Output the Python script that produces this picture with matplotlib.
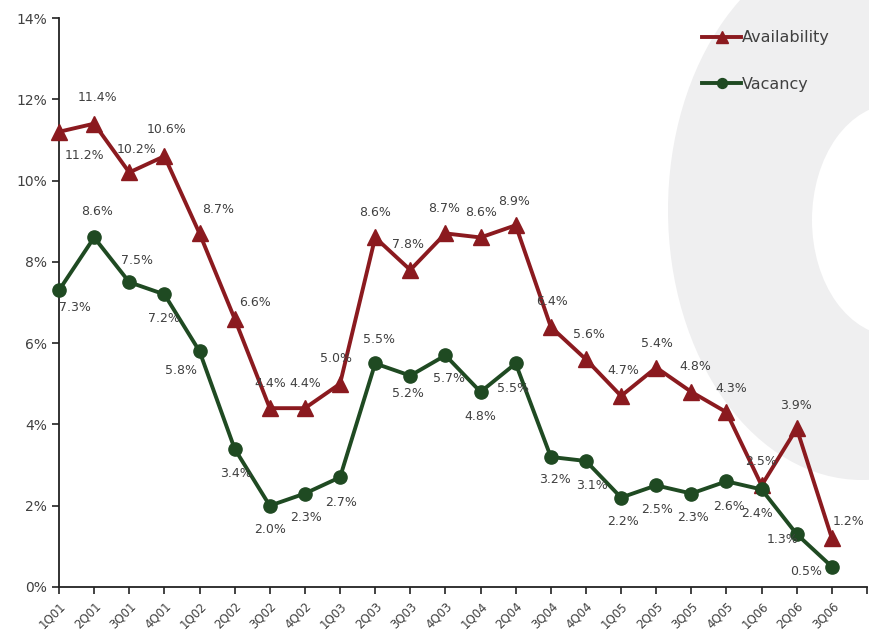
import matplotlib
matplotlib.use("Agg")
import matplotlib.pyplot as plt
from matplotlib.patches import Ellipse

# ── Data ────────────────────────────────────────────────────────────────────
quarters = ["1Q01", "2Q01", "3Q01", "4Q01", "1Q02", "2Q02", "3Q02", "4Q02",
            "1Q03", "2Q03", "3Q03", "4Q03", "1Q04", "2Q04", "3Q04", "4Q04",
            "1Q05", "2Q05", "3Q05", "4Q05", "1Q06", "2Q06", "3Q06"]
availability = [11.2, 11.4, 10.2, 10.6, 8.7, 6.6, 4.4, 4.4, 5.0, 8.6, 7.8, 8.7,
                8.6, 8.9, 6.4, 5.6, 4.7, 5.4, 4.8, 4.3, 2.5, 3.9, 1.2]
vacancy = [7.3, 8.6, 7.5, 7.2, 5.8, 3.4, 2.0, 2.3, 2.7, 5.5, 5.2, 5.7,
           4.8, 5.5, 3.2, 3.1, 2.2, 2.5, 2.3, 2.6, 2.4, 1.3, 0.5]

# label offsets in pixels (dx, dy) relative to each point
avail_off = [(25, -24), (3, 26), (7, 23), (2, 27), (19, 24), (20, 16), (0, 25), (0, 25),
             (-4, 25), (0, 25), (-2, 25), (-1, 25), (0, 25), (-2, 24), (1, 25), (3, 25),
             (2, 25), (1, 24), (4, 25), (5, 24), (-1, 24), (-1, 23), (17, 17)]
vac_off = [(16, -17), (3, 26), (8, 22), (0, -24), (-19, -19), (1, -25), (0, -24), (1, -24),
           (1, -25), (4, 24), (-2, -18), (4, -23), (0, -25), (-3, -25), (4, -23), (6, -24),
           (2, -24), (1, -24), (2, -24), (3, -25), (-5, -24), (-14, -5), (-26, -5)]

RED = "#8b1a1f"
GREEN = "#1f4a22"
TXT = "#404040"

W, H = 869, 633
fig = plt.figure(figsize=(W / 100, H / 100), dpi=100)

# decorative grey ring in the background
fig.patches.append(Ellipse((862 / W, 1 - 210 / H), 2 * 194 / W, 2 * 270 / H,
                           transform=fig.transFigure, facecolor="#efeff0",
                           edgecolor="none", zorder=0))
fig.patches.append(Ellipse((895 / W, 1 - 220 / H), 2 * 83 / W, 2 * 116 / H,
                           transform=fig.transFigure, facecolor="white",
                           edgecolor="none", zorder=0))

ax = fig.add_axes([59 / W, 1 - 587 / H, 808 / W, 569 / H])
ax.set_zorder(2)
ax.patch.set_alpha(0)

x = list(range(len(quarters)))
ax.plot(x, availability, color=RED, lw=2.8, marker="^", ms=11, clip_on=False,
        label="Availability", zorder=3)
ax.plot(x, vacancy, color=GREEN, lw=2.8, marker="o", ms=9.5, clip_on=False,
        label="Vacancy", zorder=3)

for xi, v, (dx, dy) in zip(x, availability, avail_off):
    ax.annotate(f"{v:.1f}%", (xi, v), xytext=(dx, dy), textcoords="offset pixels",
                ha="center", va="center", fontsize=9, color=TXT, zorder=4)
for xi, v, (dx, dy) in zip(x, vacancy, vac_off):
    ax.annotate(f"{v:.1f}%", (xi, v), xytext=(dx, dy), textcoords="offset pixels",
                ha="center", va="center", fontsize=9, color=TXT, zorder=4)

ax.set_xlim(0, 23)
ax.set_ylim(0, 14)
ax.set_xticks(range(24))
ax.set_xticklabels(quarters + [""], rotation=45, ha="right", va="top",
                   rotation_mode="anchor", fontsize=8.5, color=TXT)
ax.set_yticks(range(0, 15, 2))
ax.set_yticklabels([f"{v}%" for v in range(0, 15, 2)], fontsize=10, color=TXT)
ax.tick_params(axis="both", direction="out", length=5, width=1.2, color="#222222")
ax.tick_params(axis="x", pad=4)
for side in ("top", "right"):
    ax.spines[side].set_visible(False)
for side in ("left", "bottom"):
    ax.spines[side].set_linewidth(1.3)
    ax.spines[side].set_color("#222222")

leg = ax.legend(loc="upper left", bbox_to_anchor=(688 / W, 1 - 16 / H),
                bbox_transform=fig.transFigure, frameon=False, fontsize=11.5,
                handlelength=2.4, handletextpad=0.1, labelspacing=1.95,
                markerscale=0.75)
for t in leg.get_texts():
    t.set_color(TXT)

fig.savefig("out.png", dpi=100)
